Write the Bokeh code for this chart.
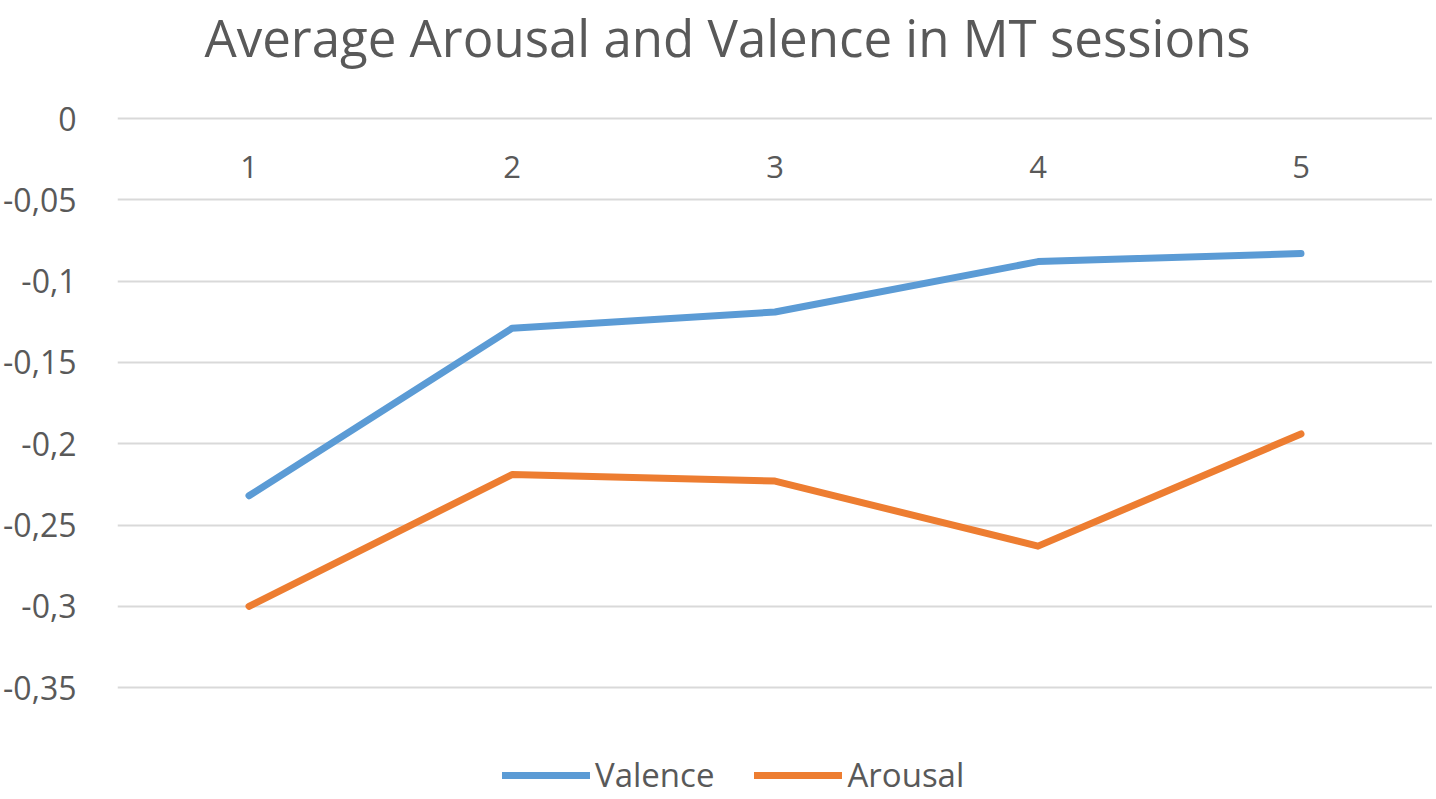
from bokeh.plotting import figure
from bokeh.models import Range1d, FixedTicker, Legend, LegendItem, ColumnDataSource, Label
from bokeh.core.properties import value
from bokeh.embed import file_html
from bokeh.resources import INLINE

sessions = [1, 2, 3, 4, 5]
session_labels = ["1", "2", "3", "4", "5"]
valence = [-0.232, -0.129, -0.119, -0.088, -0.083]
arousal = [-0.300, -0.219, -0.223, -0.263, -0.194]
y_ticks = [0, -0.05, -0.1, -0.15, -0.2, -0.25, -0.3, -0.35]
y_tick_labels = ["0", "-0,05", "-0,1", "-0,15", "-0,2", "-0,25", "-0,3", "-0,35"]
category_label_y = -0.03
title_text = "Average Arousal and Valence in MT sessions"

FONT = "Open Sans"
GRAY = "#595959"

p = figure(width=1432, height=797, output_backend="svg", toolbar_location=None,
           x_range=Range1d(0.5, 5.5), y_range=Range1d(-0.4176, 0.0726),
           min_border_left=115, min_border_right=0, min_border_top=0, min_border_bottom=0)
p.outline_line_color = None
p.background_fill_color = "white"
p.border_fill_color = "white"

p.add_layout(Label(x=87, y=796, x_units="screen", y_units="screen", text=title_text,
                   text_font=FONT, text_font_size="51px", text_color=GRAY,
                   text_align="left", text_baseline="top"))

p.xaxis.visible = False
p.xgrid.visible = False

p.yaxis.ticker = FixedTicker(ticks=y_ticks)
p.yaxis.major_label_overrides = {t: l for t, l in zip(y_ticks, y_tick_labels)}
p.yaxis.axis_line_color = None
p.yaxis.major_tick_line_color = None
p.yaxis.minor_tick_line_color = None
p.yaxis.major_label_text_font = FONT
p.yaxis.major_label_text_font_size = "32px"
p.yaxis.major_label_text_color = GRAY
p.yaxis.major_label_standoff = 35
p.ygrid.ticker = FixedTicker(ticks=y_ticks)
p.ygrid.grid_line_color = "#D9D9D9"
p.ygrid.grid_line_width = 2

src = ColumnDataSource(dict(x=sessions, lab=session_labels, y=[category_label_y] * len(sessions)))
p.text(x="x", y="y", text="lab", source=src, text_font=value(FONT), text_font_size="31px",
       text_color=GRAY, text_align="center", text_baseline="middle")

lv = p.line(sessions, valence, line_color="#5B9BD5", line_width=7, line_cap="round", line_join="round")
la = p.line(sessions, arousal, line_color="#ED7D31", line_width=7, line_cap="round", line_join="round")

legend = Legend(items=[LegendItem(label="Valence", renderers=[lv]),
                       LegendItem(label="Arousal", renderers=[la])],
                orientation="horizontal", location=(385, 0),
                label_text_font=FONT, label_text_font_size="33px", label_text_color=GRAY,
                glyph_width=88, glyph_height=24, label_height=24, label_standoff=5, spacing=40,
                border_line_color=None, background_fill_alpha=0, margin=0, padding=0)
p.add_layout(legend, "center")

open("out.html", "w").write(file_html(p, INLINE))
